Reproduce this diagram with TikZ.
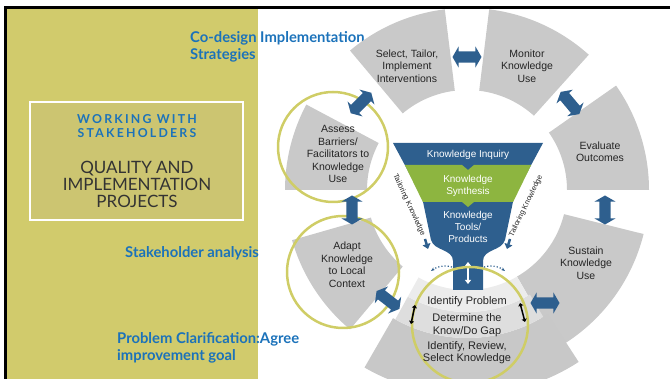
\documentclass[tikz,border=0pt]{standalone}
\usepackage{fontspec}
\setmainfont{Liberation Sans}
\newfontfamily\gillfont{Lato}
\usetikzlibrary{shapes.arrows,arrows.meta}
\definecolor{panelcol}{HTML}{D1CB6C}
\definecolor{boxcol}{HTML}{CCC571}
\definecolor{ringgray}{HTML}{C9C9C9}
\definecolor{ringtext}{HTML}{242424}
\definecolor{funblue}{HTML}{2E5F8E}
\definecolor{fungreen}{HTML}{8DB540}
\definecolor{labblue}{HTML}{1B72BA}
\definecolor{hoopcol}{HTML}{CFCD66}
\definecolor{bandone}{HTML}{ECECEC}
\definecolor{bandtwo}{HTML}{DEDEDE}
\definecolor{bandthree}{HTML}{C8C8C8}
\tikzset{
  seg/.style={fill=ringgray},
  segtext/.style={text=ringtext, align=center, font=\fontsize{10.5}{12.5}\selectfont},
  funtext/.style={text=white, align=center, font=\fontsize{10}{12}\selectfont},
  tailtext/.style={text=ringtext, font=\fontsize{7.5}{8}\selectfont, inner sep=0pt},
  hoop/.style={draw=hoopcol, line width=2.5pt},
  dblarrow/.style={double arrow, fill=funblue, minimum height=29pt, minimum width=21pt,
    double arrow head extend=5pt, double arrow tip angle=120, inner xsep=0pt, inner ysep=5.5pt},
  bluelab/.style={text=labblue, anchor=west, align=left, inner sep=0pt,
    font=\gillfont\bfseries\fontsize{14.8}{17}\selectfont},
}
\begin{document}
\begin{tikzpicture}[x=1pt,y=1pt]
        \useasboundingbox (0,0) rectangle (670,379);
        \clip (0,0) rectangle (670,379);
        \fill[panelcol] (6,0) rectangle (258,370);
        \draw[line width=3pt] (5,0) -- (5,371) -- (670,371);
        \fill[boxcol, draw=white, line width=1.5pt] (30,159) rectangle (243,277);
        \node[text=labblue, align=center, font=\gillfont\bfseries\addfontfeatures{LetterSpace=18}\fontsize{12.3}{14}\selectfont] (working) at (137,253) {WORKING WITH\\STAKEHOLDERS};
        \node[text=black!80, align=center, font=\gillfont\fontsize{17}{17}\selectfont] (quality) at (137,195) {QUALITY AND\\IMPLEMENTATION\\PROJECTS};
        \node[bluelab] (codesign) at (190,332) {Co-design Implementation\\Strategies};
        \node[bluelab] (stake) at (125,126) {Stakeholder analysis};
        \node[bluelab] (problem) at (117,31) {Problem Clarification:Agree\\improvement goal};

        \begin{scope}[shift={(467,189)}]
        \foreach \a/\b in {97/130,48/83,0/35,-60/-14,196/230,152/180}
          \fill[seg] (\a:100) arc[start angle=\a,end angle=\b,radius=100] -- (\b:182) arc[start angle=\b,end angle=\a,radius=182] -- cycle ;
        \fill[bandthree] (-120:148) arc[start angle=-120,end angle=-57,radius=148] -- (-57:205) arc[start angle=-57,end angle=-120,radius=205] -- cycle ;
        \fill[bandtwo] (-119:122) arc[start angle=-119,end angle=-59,radius=122] -- (-59:148) arc[start angle=-59,end angle=-119,radius=148] -- cycle ;
        \fill[bandone] (-119:100) arc[start angle=-119,end angle=-60,radius=100] -- (-60:122) arc[start angle=-60,end angle=-119,radius=122] -- cycle ;
        \end{scope}

        \fill[funblue] (393,236) -- (543,236) -- (514,182) -- (505,139) .. controls (502,128) and (483,130) .. (483,118) -- (483,89) -- (453,89) -- (453,118) .. controls (453,130) and (434,128) .. (431,139) -- (422,182) -- cycle ;
        \fill[fungreen] (404.8,214) -- (462,214) -- (468,209) -- (474,214) -- (531.2,214) -- (513.1,177) -- (474,177) -- (468,172) -- (462,177) -- (422.9,177) -- cycle ;
        \draw[white, line width=1.6pt, {Triangle[length=4pt,width=6pt]}-{Triangle[length=4pt,width=6pt]}] (468,117) -- (468,95) ;

        \draw[hoop] (333,232) circle[radius=55] ;
        \draw[hoop] (343,107) circle[radius=56] ;
        \draw[hoop] (470,54) circle[radius=58] ;

        \node[dblarrow] (selmon) at (467,322) {};
        \node[dblarrow, rotate=130] (moneva) at (570,276) {};
        \node[dblarrow, rotate=90] (evasus) at (605,169) {};
        \node[dblarrow, rotate=0] (suside) at (545,76) {};
        \node[dblarrow, rotate=-38] (ideada) at (388,79) {};
        \node[dblarrow, rotate=90] (adaass) at (352,169) {};
        \node[dblarrow, rotate=45] (asssel) at (361,276) {};

        \node[segtext] (select) at (407,313) {Select, Tailor,\\Implement\\Interventions};
        \node[segtext] (monitor) at (527,313) {Monitor\\Knowledge\\Use};
        \node[segtext] (evaluate) at (600,227) {Evaluate\\Outcomes};
        \node[segtext] (sustain) at (586,116) {Sustain\\Knowledge\\Use};
        \node[segtext] (adapt) at (347,114) {Adapt\\Knowledge\\to Local\\Context};
        \node[segtext] (assess) at (338,225) {Assess\\Barriers/\\Facilitators to\\Knowledge\\Use};

        \node[funtext] (inquiry) at (468,224) {Knowledge Inquiry};
        \node[funtext] (synthesis) at (468,193) {Knowledge\\Synthesis};
        \node[funtext] (tools) at (468,152) {Knowledge\\Tools/\\Products};

        \node[tailtext, rotate=-65] (tailleft) at (409,174) {Tailoring Knowledge};
        \node[tailtext, rotate=64] (tailright) at (526,173) {Tailoring Knowledge};
        \coordinate (tla) at (425,140);
        \coordinate (tlb) at (428,130);
        \coordinate (tra) at (510,140);
        \coordinate (trb) at (507,130);
        \draw[funblue, line width=2.5pt, -{Triangle[length=5pt,width=8pt]}] (tla) -- (tlb) ;
        \draw[funblue, line width=2.5pt, -{Triangle[length=5pt,width=8pt]}] (tra) -- (trb) ;
        \coordinate (dla) at (452,112);
        \coordinate (dlb) at (431,108);
        \coordinate (dra) at (484,112);
        \coordinate (drb) at (505,108);
        \draw[funblue, line width=1.2pt, dotted, -{Stealth[length=4pt]}] (dla) to[bend right=25] (dlb) ;
        \draw[funblue, line width=1.2pt, dotted, -{Stealth[length=4pt]}] (dra) to[bend left=25] (drb) ;

        \node[segtext, font=\fontsize{11}{13}\selectfont] (identify) at (467,77) {Identify Problem};
        \node[segtext, font=\fontsize{11}{13}\selectfont] (gap) at (467,54) {Determine the\\Know/Do Gap};
        \node[segtext, font=\fontsize{11}{12}\selectfont] (review) at (467,26) {Identify, Review,\\Select Knowledge};
        \coordinate (bla) at (415,74);
        \coordinate (blb) at (411,55);
        \coordinate (bra) at (520,76);
        \coordinate (brb) at (525,57);
        \draw[line width=1.5pt, {Triangle[length=3pt,width=5pt]}-{Triangle[length=3pt,width=5pt]}] (bla) -- (blb) ;
        \draw[line width=1.5pt, {Triangle[length=3pt,width=5pt]}-{Triangle[length=3pt,width=5pt]}] (bra) -- (brb) ;
\end{tikzpicture}
\end{document}
